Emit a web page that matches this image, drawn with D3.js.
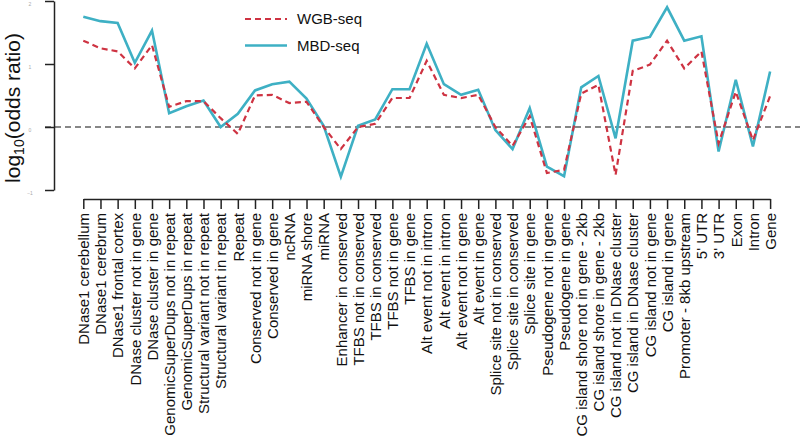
<!DOCTYPE html>
<html><head><meta charset="utf-8">
<script src="https://cdn.jsdelivr.net/npm/d3@7"></script>
<style>body{margin:0;background:#fff}svg{display:block}text{font-family:"Liberation Sans",Arial,sans-serif}</style>
</head><body><svg id="c" width="800" height="439"></svg>
<script>
const categories = ["DNase1 cerebellum","DNase1 cerebrum","DNase1 frontal cortex","DNase cluster not in gene","DNase cluster in gene","GenomicSuperDups not in repeat","GenomicSuperDups in repeat","Structural variant not in repeat","Structural variant in repeat","Repeat","Conserved not in gene","Conserved in gene","ncRNA","miRNA shore","miRNA","Enhancer in conserved","TFBS not in conserved","TFBS in conserved","TFBS not in gene","TFBS in gene","Alt event not in intron","Alt event in intron","Alt event not in gene","Alt event in gene","Splice site not in conserved","Splice site in conserved","Splice site in gene","Pseudogene not in gene","Pseudogene in gene","CG island shore not in gene - 2kb","CG island shore in gene - 2kb","CG island not in DNase cluster","CG island in DNase cluster","CG island not in gene","CG island in gene","Promoter - 8kb upstream","5' UTR","3' UTR","Exon","Intron","Gene"];
const wgb = [1.37,1.25,1.2,0.93,1.3,0.32,0.41,0.41,0.14,-0.11,0.5,0.51,0.38,0.4,0.0,-0.35,0.0,0.05,0.46,0.46,1.05,0.51,0.46,0.51,0.0,-0.3,0.17,-0.73,-0.68,0.53,0.67,-0.76,0.89,0.99,1.37,0.93,1.2,-0.26,0.56,-0.21,0.49];
const mbd = [1.75,1.68,1.65,1.02,1.53,0.22,0.33,0.42,0.0,0.21,0.58,0.68,0.72,0.45,0.02,-0.79,0.02,0.12,0.6,0.6,1.32,0.68,0.51,0.59,-0.05,-0.35,0.3,-0.63,-0.78,0.63,0.81,-0.18,1.37,1.43,1.9,1.37,1.44,-0.39,0.75,-0.31,0.88];
const yTicks = [-1,0,1,2];
const seriesNames = ["WGB-seq","MBD-seq"];

const svg = d3.select("#c");
const x = d3.scalePoint().domain(categories).range([83.3,770.1]);
const y = d3.scaleLinear().domain([-1,2]).range([190,1]);
const red = "#CE3342", teal = "#3EB0C4";

// zero line
svg.append("line").attr("x1",45).attr("x2",800).attr("y1",y(0)).attr("y2",y(0))
  .attr("stroke","#111").attr("stroke-width",1.2).attr("stroke-dasharray","6,4");

// y axis
const ya = svg.append("g").attr("transform","translate(54,0)")
  .call(d3.axisLeft(y).tickValues(yTicks).tickSize(9).tickSizeOuter(0).tickFormat(d3.format("d")));
ya.select(".domain").attr("stroke","#222").attr("stroke-width",1.5);
ya.selectAll(".tick line").attr("stroke","#222").attr("stroke-width",1.5);
ya.selectAll(".tick text").attr("font-size",5).attr("fill","#aaa").attr("x",-24).attr("dy","0.9em")
  .attr("text-anchor","middle");

// x axis
const xa = svg.append("g").attr("transform","translate(0,199)")
  .call(d3.axisBottom(x).tickSize(10).tickSizeOuter(0));
xa.select(".domain").attr("stroke","#222").attr("stroke-width",1.5);
xa.selectAll(".tick line").attr("stroke","#222").attr("stroke-width",1.5);
xa.selectAll(".tick text").attr("font-size",15).attr("fill","#111")
  .attr("transform","rotate(-90)").attr("text-anchor","end")
  .attr("x",-14).attr("y",0).attr("dy","0.35em");

// y title
svg.append("text").attr("transform","translate(20,108) rotate(-90)").attr("text-anchor","middle")
  .attr("font-size",21).attr("fill","#111")
  .html('log<tspan font-size="14" dy="4">10</tspan><tspan dy="-4">(odds ratio)</tspan>');

const line = d3.line().x((d,i)=>x(categories[i])).y(d=>y(d));
svg.append("path").datum(mbd).attr("d",line).attr("fill","none").attr("stroke",teal).attr("stroke-width",2.6).attr("stroke-linejoin","miter");
svg.append("path").datum(wgb).attr("d",line).attr("fill","none").attr("stroke",red).attr("stroke-width",2.2).attr("stroke-dasharray","6,4");

// legend
const lg = svg.append("g");
[[red,"6,4",2.2],[teal,null,2.6]].forEach((s,i)=>{
  const yy = 19 + i*26.5;
  lg.append("line").attr("x1",245).attr("x2",287).attr("y1",yy).attr("y2",yy)
    .attr("stroke",s[0]).attr("stroke-width",s[2]).attr("stroke-dasharray",s[1]);
  lg.append("text").attr("x",297).attr("y",yy).attr("dy","0.35em").attr("font-size",15).attr("fill","#111").text(seriesNames[i]);
});
</script></body></html>
